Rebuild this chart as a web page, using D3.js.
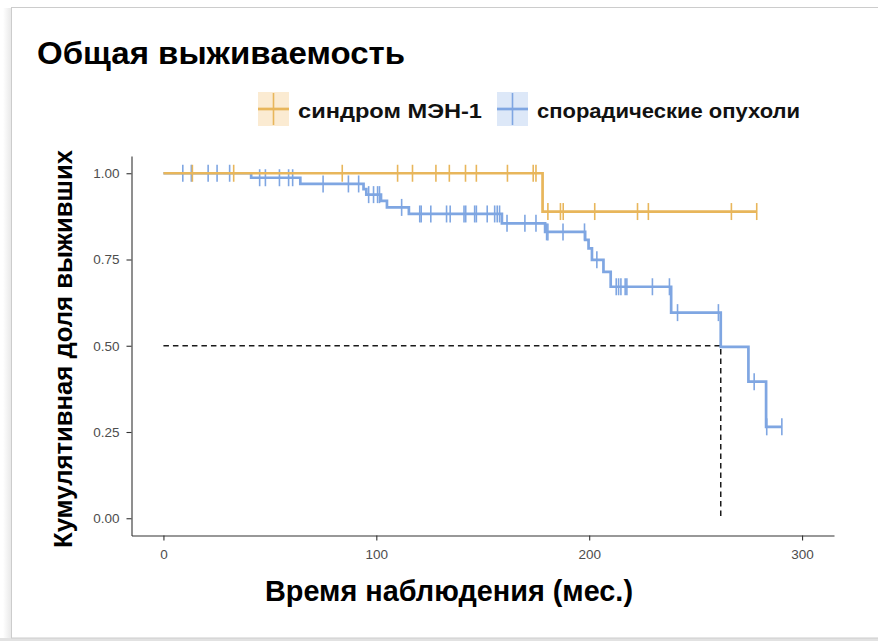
<!DOCTYPE html>
<html>
<head>
<meta charset="utf-8">
<script src="https://cdn.jsdelivr.net/npm/d3@7/dist/d3.min.js"></script>
<style>
  html, body { margin: 0; padding: 0; background: #ffffff; }
  svg { display: block; }
</style>
</head>
<body>
<div id="chart"></div>
<script>
// Kaplan–Meier estimates: step times (months) and survival after each step
const menTimes = [0, 178.1];
const menSurv = [1, 0.889];
const menEnd = 278.7;
const menCensor = [13.6, 33, 84, 110, 117, 128, 134.3, 141.9, 147, 161.6, 173.7, 175,
  180.6, 186.5, 187.8, 202.6, 222.7, 227.8, 266.8, 278.7];

const sporTimes = [0, 41.2, 64.3, 94, 95.3, 102.2, 105, 115.3, 159, 179.3, 198.1, 199.7,
  201.3, 206.7, 210.1, 238.5, 261.8, 274.8, 283.1];
const sporSurv = [1, 0.987, 0.969, 0.954, 0.938, 0.920, 0.901, 0.882, 0.855, 0.830, 0.807, 0.782,
  0.749, 0.714, 0.671, 0.596, 0.497, 0.396, 0.265];
const sporEnd = 290.5;
const sporCensor = [9.1, 13.1, 21, 25.2, 31.1, 45.2, 47.9, 54.5, 58.8, 60.7, 75, 86.9, 91.7,
  96.4, 98.7, 100.6, 101.5, 111.9, 120.4, 121.1, 125.6, 133, 134.7, 141.2, 142, 146.2, 147,
  152.1, 155.6, 156.8, 157.9, 161.4, 169.8, 175, 180, 180.6, 187.7, 197.8, 203.6, 212.7,
  213.8, 214.9, 216.9, 217.7, 229.7, 237.7, 241.5, 260.7, 277.5, 283.4, 290.5];

const medianSurvival = 261.8;
const groupNames = ["синдром МЭН-1", "спорадические опухоли"];
const groupColors = ["#E8B65B", "#7FA6E2"];
const keyFills = ["#FBEBD2", "#DDE8F8"];
const xTicks = [0, 100, 200, 300];
const yTicks = [0, 0.25, 0.5, 0.75, 1];

const W = 878, H = 641;
const svg = d3.select("#chart").append("svg").attr("width", W).attr("height", H);

// card frame with a soft shadow on the left edge
const defs = svg.append("defs");
const grad = defs.append("linearGradient").attr("id", "shade").attr("x1", 0).attr("x2", 1);
grad.append("stop").attr("offset", 0).attr("stop-color", "#ffffff");
grad.append("stop").attr("offset", 1).attr("stop-color", "#e6e6e6");
svg.append("rect").attr("x", 3).attr("y", 8).attr("width", 9).attr("height", H).attr("fill", "url(#shade)");
svg.append("rect").attr("x", 0).attr("y", 638).attr("width", W).attr("height", 3).attr("fill", "#e2e2e2");
svg.append("rect").attr("x", 11.5).attr("y", 7.5).attr("width", W + 20).attr("height", 630.5)
  .attr("fill", "#ffffff").attr("stroke", "#cccccc").attr("stroke-width", 1);

const x = d3.scaleLinear().domain([-15, 315]).range([131.5, 834]);
const y = d3.scaleLinear().domain([-0.05, 1.05]).range([535.5, 156]);

const font = "'Liberation Sans', Arial, Helvetica, sans-serif";

// axes
const gx = svg.append("g").attr("transform", "translate(0,535.5)")
  .call(d3.axisBottom(x).tickValues(xTicks).tickFormat(d3.format("d")).tickSize(5).tickPadding(9).tickSizeOuter(0));
const gy = svg.append("g").attr("transform", "translate(131.5,0)")
  .call(d3.axisLeft(y).tickValues(yTicks).tickFormat(d3.format(".2f")).tickSize(5).tickPadding(7).tickSizeOuter(0));
[gx, gy].forEach(g => {
  g.select(".domain").attr("stroke", "#333333").attr("stroke-width", 1.1);
  g.selectAll(".tick line").attr("stroke", "#333333").attr("stroke-width", 1.1);
  g.selectAll(".tick text").attr("fill", "#4d4d4d").style("font-family", font).style("font-size", "13.5px");
});

// survival step function lookup
function survAt(times, surv, t) {
  let s = surv[0];
  for (let i = 0; i < times.length; i++) if (times[i] <= t) s = surv[i];
  return s;
}

const line = d3.line().x(d => x(d[0])).y(d => y(d[1])).curve(d3.curveStepAfter);

// median survival reference lines
svg.append("path")
  .attr("d", d3.line()([[x(0), y(0.5)], [x(medianSurvival), y(0.5)], [x(medianSurvival), y(0)]]))
  .attr("fill", "none").attr("stroke", "#1a1a1a").attr("stroke-width", 1.5)
  .attr("stroke-dasharray", "5.5,4");

const groups = [
  { times: menTimes, surv: menSurv, end: menEnd, censor: menCensor },
  { times: sporTimes, surv: sporSurv, end: sporEnd, censor: sporCensor }
];

groups.slice().reverse().forEach((g, ri) => {
  const gi = groups.length - 1 - ri;
  const pts = g.times.map((t, i) => [t, g.surv[i]]);
  pts.push([g.end, g.surv[g.surv.length - 1]]);
  svg.append("path").attr("d", line(pts)).attr("fill", "none")
    .attr("stroke", groupColors[gi]).attr("stroke-width", 2.7);
  svg.append("g").selectAll("line").data(g.censor).join("line")
    .attr("x1", d => x(d)).attr("x2", d => x(d))
    .attr("y1", d => y(survAt(g.times, g.surv, d)) - 8.5)
    .attr("y2", d => y(survAt(g.times, g.surv, d)) + 8.5)
    .attr("stroke", groupColors[gi]).attr("stroke-width", 1.6);
});

// title
svg.append("text").attr("x", 37).attr("y", 64).text("Общая выживаемость")
  .style("font-family", font).style("font-weight", "bold").style("font-size", "31px")
  .attr("fill", "#000").attr("textLength", 368).attr("lengthAdjust", "spacingAndGlyphs");

// legend
const legendX = [258, 497];
const labelX = [298, 537];
const labelW = [184, 263];
groupNames.forEach((name, i) => {
  const lg = svg.append("g");
  lg.append("rect").attr("x", legendX[i]).attr("y", 92).attr("width", 31).attr("height", 34)
    .attr("fill", keyFills[i]);
  lg.append("line").attr("x1", legendX[i]).attr("x2", legendX[i] + 31).attr("y1", 109).attr("y2", 109)
    .attr("stroke", groupColors[i]).attr("stroke-width", 2.7);
  lg.append("line").attr("x1", legendX[i] + 15.5).attr("x2", legendX[i] + 15.5).attr("y1", 93).attr("y2", 125)
    .attr("stroke", groupColors[i]).attr("stroke-width", 1.6);
  lg.append("text").attr("x", labelX[i]).attr("y", 117.5).text(name)
    .style("font-family", font).style("font-weight", "bold").style("font-size", "21px")
    .attr("fill", "#111").attr("textLength", labelW[i]).attr("lengthAdjust", "spacingAndGlyphs");
});

// axis titles
svg.append("text").attr("x", 449).attr("y", 601).attr("text-anchor", "middle")
  .text("Время наблюдения (мес.)")
  .style("font-family", font).style("font-weight", "bold").style("font-size", "29.5px")
  .attr("fill", "#000").attr("textLength", 368).attr("lengthAdjust", "spacingAndGlyphs");

svg.append("text").attr("transform", "translate(72,349) rotate(-90)").attr("text-anchor", "middle")
  .text("Кумулятивная доля выживших")
  .style("font-family", font).style("font-weight", "bold").style("font-size", "25px")
  .attr("fill", "#000").attr("textLength", 398).attr("lengthAdjust", "spacingAndGlyphs");
</script>
</body>
</html>
